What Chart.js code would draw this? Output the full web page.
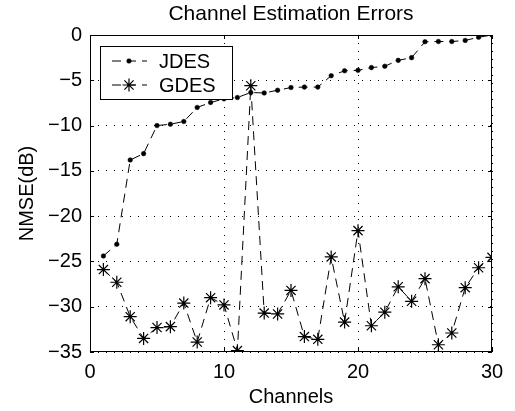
<!DOCTYPE html>
<html>
<head>
<meta charset="utf-8">
<script src="https://cdn.jsdelivr.net/npm/chart.js@4.4.1/dist/chart.umd.min.js"></script>
<style>
  html, body { margin: 0; padding: 0; background: #fff; }
  #wrap { width: 515px; height: 411px; }
</style>
</head>
<body>
<div id="wrap"><canvas id="chart"></canvas></div>
<script>
"use strict"

const channels = [1,2,3,4,5,6,7,8,9,10,11,12,13,14,15,16,17,18,19,20,21,22,23,24,25,26,27,28,29,30]
const jdes = [-24.4,-23.1,-13.8,-13.1,-10.0,-9.85,-9.55,-8.0,-7.45,-7.05,-6.9,-6.35,-6.4,-6.1,-5.8,-5.75,-5.75,-4.5,-3.95,-3.9,-3.6,-3.45,-2.8,-2.5,-0.75,-0.72,-0.72,-0.6,-0.25,0]
const gdes = [-25.9,-27.3,-31.1,-33.5,-32.3,-32.2,-29.6,-33.9,-29.0,-29.8,-34.85,-5.6,-30.7,-30.8,-28.2,-33.3,-33.6,-24.5,-31.7,-21.6,-32.1,-30.6,-27.8,-29.4,-26.9,-34.2,-32.9,-27.9,-25.7,-24.55]
const xTicks = [0, 10, 20, 30]
const yTicks = [0, -5, -10, -15, -20, -25, -30, -35]
const chartTitle = "Channel Estimation Errors"

const FONT = "'Liberation Sans', Arial, Helvetica, sans-serif"
const LINE_DASH = [9, 6]
const GRID_DASH = [1, 7]

function toPoints(vals){
    return channels.map((c, i) => ({x: c, y: vals[i]}))
}

// box around the axes with inward ticks, like matlab
const boxPlugin = {
    id: "box",
    afterDatasetsDraw(chart){
        const ctx = chart.ctx
        const a = chart.chartArea
        const xs = chart.scales.x, ys = chart.scales.y
        ctx.save()
        ctx.strokeStyle = "#000"
        ctx.lineWidth = 1
        ctx.setLineDash([])
        ctx.strokeRect(a.left + 0.5, a.top + 0.5, a.right - a.left - 1, a.bottom - a.top - 1)
        ctx.beginPath()
        xTicks.forEach(t => {
            const px = Math.round(xs.getPixelForValue(t)) + 0.5
            ctx.moveTo(px, a.bottom); ctx.lineTo(px, a.bottom - 4)
            ctx.moveTo(px, a.top); ctx.lineTo(px, a.top + 4)
        })
        yTicks.forEach(t => {
            const py = Math.round(ys.getPixelForValue(t)) + 0.5
            ctx.moveTo(a.left, py); ctx.lineTo(a.left + 4, py)
            ctx.moveTo(a.right, py); ctx.lineTo(a.right - 4, py)
        })
        ctx.stroke()

        // title centred over the axes, not the canvas
        ctx.fillStyle = "#000"
        ctx.font = "21px " + FONT
        ctx.textAlign = "center"
        ctx.textBaseline = "middle"
        ctx.fillText(chartTitle, (a.left + a.right) / 2, 14)

        // legend box inside the plot
        const lx = 100, ly = 46, lw = 132, lh = 53
        ctx.fillStyle = "#fff"
        ctx.fillRect(lx, ly, lw, lh)
        ctx.strokeRect(lx + 0.5, ly + 0.5, lw, lh)
        const rows = [
            {label: "JDES", y: ly + 15, ds: chart.data.datasets[0]},
            {label: "GDES", y: ly + 39, ds: chart.data.datasets[1]},
        ]
        rows.forEach(r => {
            ctx.beginPath()
            ctx.setLineDash(LINE_DASH)
            ctx.lineWidth = 1
            ctx.strokeStyle = "#000"
            ctx.moveTo(112, r.y); ctx.lineTo(147, r.y)
            ctx.stroke()
            ctx.setLineDash([])
            ctx.fillStyle = "#000"
            ctx.strokeStyle = "#000"
            ctx.lineWidth = r.ds.pointBorderWidth
            Chart.helpers.drawPoint(ctx, {
                pointStyle: r.ds.pointStyle,
                radius: r.ds.pointRadius,
                borderWidth: r.ds.pointBorderWidth,
                rotation: 0
            }, 129, r.y)
            ctx.fillStyle = "#000"
            ctx.font = "20px " + FONT
            ctx.textBaseline = "middle"
            ctx.textAlign = "left"
            ctx.fillText(r.label, 159, r.y + 1)
        })
        ctx.restore()
    }
}

const data = {
    datasets: [
        {
            label: "JDES",
            data: toPoints(jdes),
            borderColor: "#000",
            backgroundColor: "#000",
            borderWidth: 1,
            borderDash: LINE_DASH,
            pointStyle: "circle",
            pointRadius: 2.3,
            pointBorderWidth: 0.5,
            pointBackgroundColor: "#000",
            pointBorderColor: "#000",
            tension: 0,
        },
        {
            label: "GDES",
            data: toPoints(gdes),
            borderColor: "#000",
            backgroundColor: "#000",
            borderWidth: 1,
            borderDash: LINE_DASH,
            pointStyle: "star",
            pointRadius: 6.5,
            pointBorderWidth: 1.2,
            pointBorderColor: "#000",
            tension: 0,
        },
    ]
}

const config = {
    type: "line",
    data: data,
    plugins: [boxPlugin],
    options: {
        responsive: true,
        maintainAspectRatio: false,
        animation: false,
        layout: { padding: { left: 0, right: 23, top: 35, bottom: 0 } },
        plugins: {
            legend: { display: false },
            tooltip: { enabled: false },
            title: { display: false },
        },
        scales: {
            x: {
                type: "linear",
                min: 0,
                max: 30,
                afterBuildTicks: s => { s.ticks = xTicks.map(v => ({value: v})) },
                afterFit: s => { s.height = 59 },
                grid: { color: "#000", lineWidth: 1, borderDash: GRID_DASH, drawTicks: false },
                border: { display: false, dash: GRID_DASH },
                ticks: {
                    color: "#000",
                    font: { family: FONT, size: 20 },
                    padding: 8,
                    maxRotation: 0,
                },
                title: {
                    display: true,
                    text: "Channels",
                    color: "#000",
                    font: { family: FONT, size: 20 },
                    padding: { top: 0, bottom: 2 },
                },
            },
            y: {
                type: "linear",
                min: -35,
                max: 0,
                afterBuildTicks: s => { s.ticks = yTicks.map(v => ({value: v})) },
                afterFit: s => { s.width = 90 },
                grid: { color: "#000", lineWidth: 1, borderDash: GRID_DASH, drawTicks: false },
                border: { display: false, dash: GRID_DASH },
                ticks: {
                    color: "#000",
                    font: { family: FONT, size: 20 },
                    padding: 8,
                    callback: v => String(v).replace("-", "\u2212"),
                },
                title: {
                    display: true,
                    text: "NMSE(dB)",
                    color: "#000",
                    font: { family: FONT, size: 20 },
                    padding: { top: 15, bottom: 0 },
                },
            },
        },
    },
}

const resultChart = new Chart(document.getElementById("chart"), config)
</script>
</body>
</html>
